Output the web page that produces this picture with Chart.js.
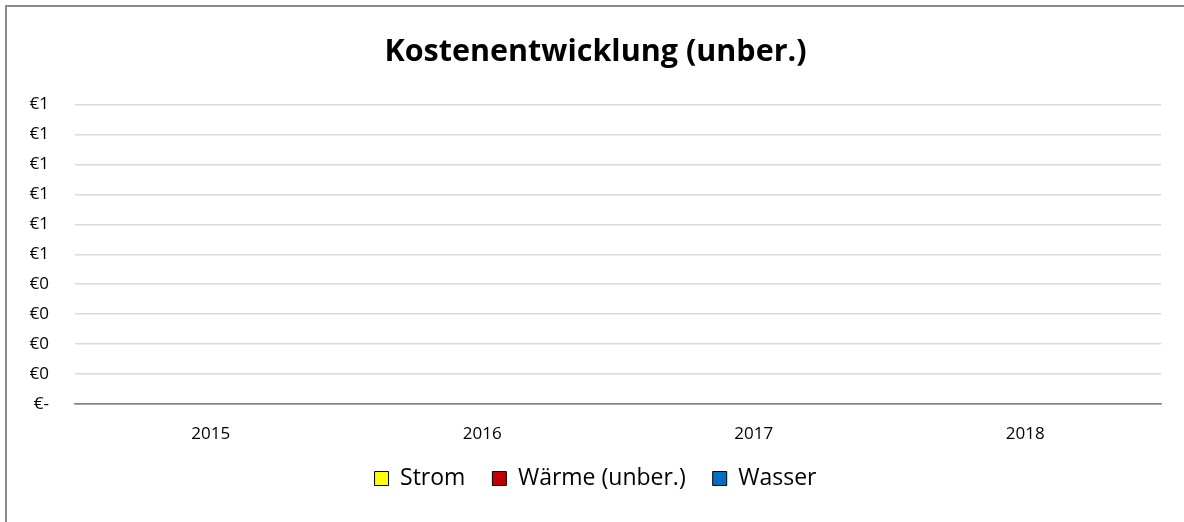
<!DOCTYPE html>
<html>
<head>
<meta charset="utf-8">
<script src="https://cdn.jsdelivr.net/npm/chart.js@4.4.1/dist/chart.umd.min.js"></script>
<style>
  html, body { margin: 0; padding: 0; background: #fff; overflow: hidden; }
  #frame {
    position: absolute; left: 5px; top: 5px; width: 1300px; height: 600px;
    border-left: 2px solid #8c8c8c; border-top: 2px solid #8c8c8c;
    pointer-events: none;
  }
  #box { position: absolute; left: 0; top: 0; width: 1184px; height: 522px; }
</style>
</head>
<body>
<div id="box"><canvas id="kostenChart" width="1184" height="522"></canvas></div>
<div id="frame"></div>
<script>
  "use strict";
  // Jahre und Kosten (alle Werte 0 in der Vorlage)
  var jahre = ["2015", "2016", "2017", "2018"];
  var strom = [0, 0, 0, 0];
  var waerme = [0, 0, 0, 0];
  var wasser = [0, 0, 0, 0];
  var yMax = 1;
  var yStep = 0.1;

  var font = "'Open Sans', 'Noto Sans', sans-serif";
  var gridColor = "#d9d9d9";
  var axisColor = "#868686";

  var euro = function (v) {
    var r = Math.round(Math.round(v * 10) / 10);
    return v === 0 ? "€-" : "€" + r;
  };

  var data = {
    labels: jahre,
    datasets: [
      { label: "Strom", data: strom, backgroundColor: "#ffff00", borderColor: "#000", borderWidth: 1 },
      { label: "Wärme (unber.)", data: waerme, backgroundColor: "#c00000", borderColor: "#000", borderWidth: 1 },
      { label: "Wasser", data: wasser, backgroundColor: "#0070c0", borderColor: "#000", borderWidth: 1 }
    ]
  };

  var options = {
    responsive: false,
    animation: false,
    layout: { padding: { top: 34, left: 30, right: 23, bottom: 22 } },
    plugins: {
      title: {
        display: true,
        text: "Kostenentwicklung (unber.)",
        color: "#000",
        font: { family: font, size: 30.5, weight: "bold" },
        padding: { top: 0, bottom: 34 }
      },
      legend: {
        position: "bottom",
        labels: {
          color: "#000",
          font: { family: font, size: 23 },
          boxWidth: 14,
          boxHeight: 14,
          padding: 27
        }
      },
      tooltip: { enabled: false }
    },
    scales: {
      x: {
        grid: { display: false, drawTicks: false },
        border: { display: true, color: axisColor, width: 1.5 },
        ticks: { color: "#000", font: { family: font, size: 17 }, padding: 20 },
        afterFit: function (s) { s.height = 36; }
      },
      y: {
        min: 0,
        max: yMax,
        grid: {
          drawTicks: false,
          lineWidth: 1.5,
          color: function (c) { return c.tick && c.tick.value === 0 ? axisColor : gridColor; }
        },
        border: { display: false },
        ticks: {
          stepSize: yStep,
          color: "#000",
          font: { family: font, size: 17 },
          padding: 26,
          callback: function (v) { return euro(v); }
        },
        afterFit: function (s) { s.width = 45; }
      }
    }
  };

  new Chart(document.getElementById("kostenChart").getContext("2d"), {
    type: "bar",
    data: data,
    options: options
  });
</script>
</body>
</html>
